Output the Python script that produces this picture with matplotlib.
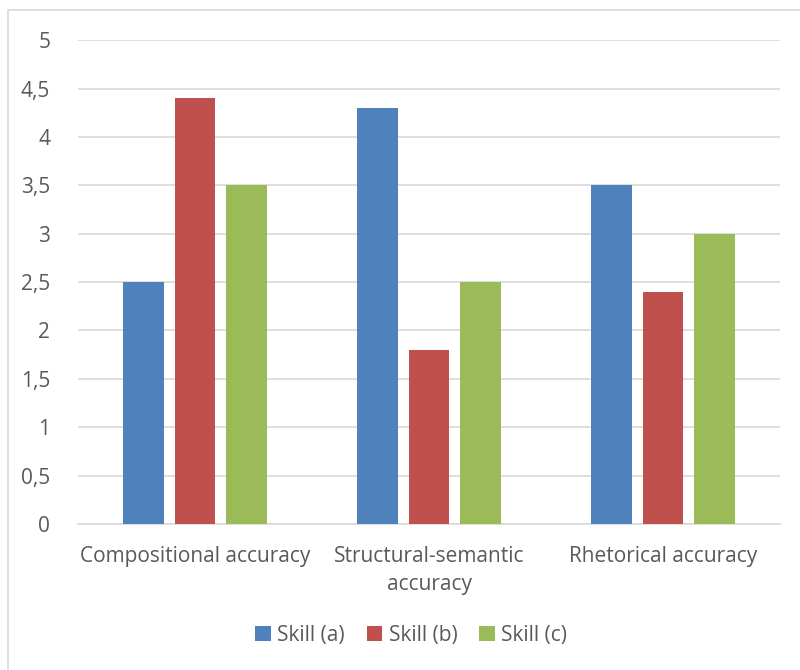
import matplotlib.pyplot as plt
from matplotlib.patches import Rectangle
import numpy as np

categories = ["Compositional accuracy", "Structural-semantic\naccuracy", "Rhetorical accuracy"]
series_names = ["Skill (a)", "Skill (b)", "Skill (c)"]
skill_a = [2.5, 4.3, 3.5]
skill_b = [4.4, 1.8, 2.4]
skill_c = [3.5, 2.5, 3.0]
colors = ["#4F81BD", "#C0504D", "#9BBB59"]
yticks = [0, 0.5, 1, 1.5, 2, 2.5, 3, 3.5, 4, 4.5, 5]
ytick_labels = ["0", "0,5", "1", "1,5", "2", "2,5", "3", "3,5", "4", "4,5", "5"]

plt.rcParams['font.family'] = ['Open Sans', 'DejaVu Sans']
text_col = "#595959"

fig = plt.figure(figsize=(8, 6.7), dpi=100)
ax = fig.add_axes([0.0975, 0.218, 0.8775, 0.722])

# chart border (left/top visible)
fig.patches.append(Rectangle((8 / 800, -0.1), 1.2, 1.1 - 10 / 670, transform=fig.transFigure,
                             fill=False, edgecolor="#D9D9D9", linewidth=1.2))

x = np.arange(len(categories))
w = 0.175
step = 0.222
for i, (vals, name) in enumerate(zip([skill_a, skill_b, skill_c], series_names)):
    ax.bar(x + (i - 1) * step, vals, w, color=colors[i], label=name, zorder=3)

ax.set_xlim(-0.5, 2.5)
ax.set_ylim(0, 5)
ax.set_yticks(yticks)
ax.set_yticklabels(ytick_labels)
ax.set_xticks(x)
ax.set_xticklabels(categories, linespacing=1.45)
ax.yaxis.grid(True, color="#D9D9D9", linewidth=1.2, zorder=0)
for s in ["top", "right", "left"]:
    ax.spines[s].set_visible(False)
ax.spines["bottom"].set_color("#D9D9D9")
ax.spines["bottom"].set_linewidth(1.2)
ax.tick_params(axis="both", length=0, labelsize=15, colors=text_col)
ax.tick_params(axis="y", pad=20)
ax.tick_params(axis="x", pad=16)

leg = fig.legend(loc="center", bbox_to_anchor=(0.514, 0.052), ncol=3, frameon=False,
                 fontsize=15, handlelength=0.75, handleheight=0.75, handletextpad=0.3,
                 columnspacing=1.05)
for t in leg.get_texts():
    t.set_color(text_col)

fig.savefig("out.png", dpi=100)
